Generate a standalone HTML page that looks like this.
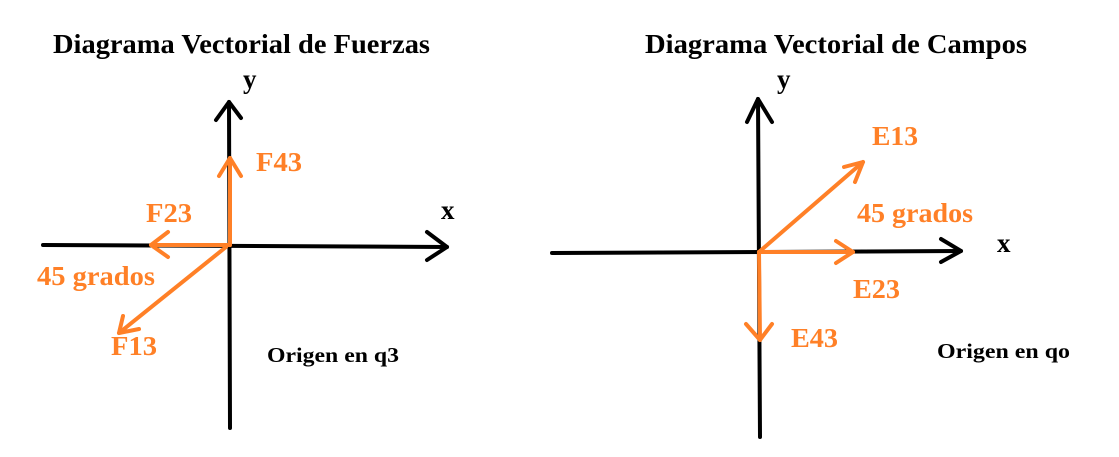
<!DOCTYPE html>
<html><head><meta charset="utf-8"><style>
html,body{margin:0;padding:0;background:#fff;}
svg{display:block;}
text{font-family:"Liberation Serif","Times New Roman",Times,serif;font-weight:bold;}
.o{fill:#ff8027;font-size:27px;}
.k{fill:#000;}
</style></head><body>
<svg width="1119" height="457" viewBox="0 0 1119 457" xmlns="http://www.w3.org/2000/svg">
<g fill="none" stroke-linecap="round" stroke-linejoin="round">
<g stroke="#000" stroke-width="4">
<line x1="43" y1="245" x2="447" y2="247"/>
<polyline points="427,232 447,247 427,260"/>
<line x1="229" y1="102" x2="230" y2="428"/>
<polyline points="216,120 229,102 241,118"/>
</g>
<g stroke="#ff8027" stroke-width="4">
<line x1="230" y1="245" x2="230" y2="158"/>
<polyline points="219,176 230,158 241,176"/>
<line x1="230" y1="245" x2="151" y2="245"/>
<polyline points="168,232 151,245 168,257"/>
<line x1="226" y1="247" x2="119" y2="333"/>
<polyline points="123,316 119,333 139,329"/>
</g>
<g stroke="#000" stroke-width="4">
<line x1="552" y1="253" x2="961" y2="251"/>
<polyline points="941,239 961,251 941,262"/>
<line x1="758" y1="99" x2="760" y2="437"/>
<polyline points="747,122 758,99 772,122"/>
</g>
<g stroke="#ff8027" stroke-width="4">
<line x1="759" y1="252" x2="863" y2="162"/>
<polyline points="844,167 863,162 855,182"/>
<line x1="759" y1="252" x2="853" y2="252"/>
<polyline points="836,241 853,252 836,263"/>
<line x1="759" y1="252" x2="760" y2="340"/>
<polyline points="746,324 760,340 772,324"/>
</g>
</g>
<text class="k" x="53" y="53" font-size="27" textLength="377" lengthAdjust="spacingAndGlyphs">Diagrama Vectorial de Fuerzas</text>
<text class="k" x="645" y="53" font-size="27" textLength="382" lengthAdjust="spacingAndGlyphs">Diagrama Vectorial de Campos</text>
<text class="k" x="243" y="88" font-size="27">y</text>
<text class="k" x="441" y="219" font-size="27">x</text>
<text class="k" x="777" y="88" font-size="27">y</text>
<text class="k" x="997" y="252" font-size="27">x</text>
<text class="k" x="267" y="362" font-size="21" textLength="132" lengthAdjust="spacingAndGlyphs">Origen en q3</text>
<text class="k" x="937" y="358" font-size="21" textLength="133" lengthAdjust="spacingAndGlyphs">Origen en qo</text>
<text class="o" x="256" y="171" textLength="46" lengthAdjust="spacingAndGlyphs">F43</text>
<text class="o" x="146" y="222" textLength="46" lengthAdjust="spacingAndGlyphs">F23</text>
<text class="o" x="37" y="285" textLength="118" lengthAdjust="spacingAndGlyphs">45 grados</text>
<text class="o" x="111" y="355" textLength="46" lengthAdjust="spacingAndGlyphs">F13</text>
<text class="o" x="872" y="145" textLength="46" lengthAdjust="spacingAndGlyphs">E13</text>
<text class="o" x="857" y="222" textLength="116" lengthAdjust="spacingAndGlyphs">45 grados</text>
<text class="o" x="853" y="298" textLength="47" lengthAdjust="spacingAndGlyphs">E23</text>
<text class="o" x="791" y="347" textLength="47" lengthAdjust="spacingAndGlyphs">E43</text>
</svg>
</body></html>
